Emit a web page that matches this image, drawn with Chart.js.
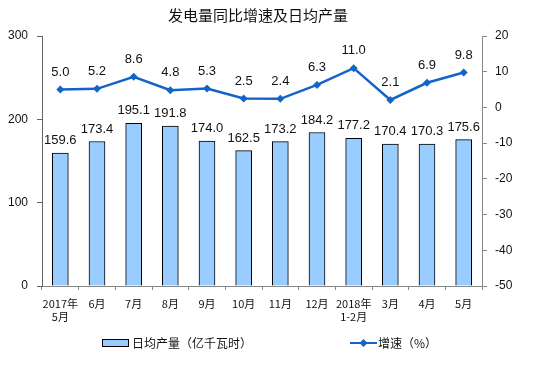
<!DOCTYPE html>
<html>
<head>
<meta charset="utf-8">
<script src="https://cdn.jsdelivr.net/npm/chart.js@4.4.1/dist/chart.umd.min.js"></script>
<style>
  html, body { margin: 0; padding: 0; background: #fff; }
  #wrap { width: 553px; height: 367px; position: relative; }
</style>
</head>
<body>
<div id="wrap"><canvas id="myChart"></canvas></div>
<script>
// 类别与数据
const months = [['2017年', '5月'], '6月', '7月', '8月', '9月', '10月', '11月', '12月', ['2018年', '1-2月'], '3月', '4月', '5月'];
const dailyOutput = [159.6, 173.4, 195.1, 191.8, 174.0, 162.5, 173.2, 184.2, 177.2, 170.4, 170.3, 175.6];
const growthRate = [5.0, 5.2, 8.6, 4.8, 5.3, 2.5, 2.4, 6.3, 11.0, 2.1, 6.9, 9.8];

const titleText = '发电量同比增速及日均产量';
const barLabel = '日均产量（亿千瓦时）';
const lineLabel = '增速（%）';

const barFill = '#99CCFF';
const lineColor = '#1464C8';
const numFont = '"Liberation Sans", Arial, sans-serif';
const cjkFont = '"Noto Sans CJK SC", "Liberation Sans", sans-serif';

// 数值标签 + 标题 + 图例
const labelPlugin = {
    id: 'labels',
    afterDatasetsDraw(chart) {
        const ctx = chart.ctx;
        ctx.save();
        ctx.font = '13px ' + numFont;
        ctx.fillStyle = '#111';
        ctx.textAlign = 'center';
        ctx.textBaseline = 'bottom';
        chart.data.datasets.forEach((ds, i) => {
            const meta = chart.getDatasetMeta(i);
            meta.data.forEach((el, j) => {
                const off = ds.type === 'line' ? 11 : 6;
                ctx.fillText(ds.data[j].toFixed(1), el.x, el.y - off);
            });
        });
        ctx.restore();
    },
    afterDraw(chart) {
        const ctx = chart.ctx;
        ctx.save();
        // 标题
        ctx.font = '15px ' + cjkFont;
        ctx.fillStyle = '#111';
        ctx.textAlign = 'center';
        ctx.textBaseline = 'middle';
        ctx.fillText(titleText, 258, 15);

        // 图例
        const ly = 343;
        ctx.fillStyle = barFill;
        ctx.fillRect(102, ly - 3.5, 26, 7);
        ctx.strokeStyle = '#000';
        ctx.lineWidth = 1;
        ctx.strokeRect(102.5, ly - 3.5, 26, 7);
        ctx.font = '12px ' + cjkFont;
        ctx.fillStyle = '#111';
        ctx.textAlign = 'left';
        ctx.fillText(barLabel, 132, ly);

        ctx.strokeStyle = lineColor;
        ctx.lineWidth = 2;
        ctx.beginPath();
        ctx.moveTo(350, ly);
        ctx.lineTo(377, ly);
        ctx.stroke();
        ctx.fillStyle = lineColor;
        ctx.beginPath();
        ctx.moveTo(363.5, ly - 4);
        ctx.lineTo(367.5, ly);
        ctx.lineTo(363.5, ly + 4);
        ctx.lineTo(359.5, ly);
        ctx.closePath();
        ctx.fill();
        ctx.fillStyle = '#111';
        ctx.fillText(lineLabel, 378, ly);
        ctx.restore();
    }
};

const ctx = document.getElementById('myChart').getContext('2d');
const chart = new Chart(ctx, {
    data: {
        labels: months,
        datasets: [
            {
                type: 'line',
                label: lineLabel,
                data: growthRate,
                yAxisID: 'y1',
                borderColor: lineColor,
                backgroundColor: lineColor,
                borderWidth: 2.5,
                pointStyle: 'rectRot',
                pointRadius: 4,
                pointBorderWidth: 0,
                tension: 0,
                order: 0
            },
            {
                type: 'bar',
                label: barLabel,
                data: dailyOutput,
                yAxisID: 'y',
                backgroundColor: barFill,
                borderColor: '#000',
                borderWidth: 1,
                barThickness: 16,
                order: 1
            }
        ]
    },
    options: {
        animation: false,
        responsive: true,
        maintainAspectRatio: false,
        layout: {
            padding: { top: 36, bottom: 41, left: 0, right: 0 }
        },
        plugins: {
            legend: { display: false },
            title: { display: false },
            tooltip: { enabled: false }
        },
        scales: {
            x: {
                offset: true,
                grid: {
                    offset: true,
                    drawOnChartArea: false,
                    drawTicks: true,
                    tickLength: 4,
                    color: '#888'
                },
                border: { color: '#888' },
                ticks: {
                    color: '#111',
                    padding: 7,
                    maxRotation: 0,
                    autoSkip: false,
                    font: { family: cjkFont, size: 11 }
                },
                afterFit: s => { s.height = 40; }
            },
            y: {
                position: 'left',
                min: 0,
                max: 300,
                ticks: {
                    stepSize: 100,
                    color: '#111',
                    padding: 9,
                    font: { family: numFont, size: 12 }
                },
                grid: {
                    drawOnChartArea: false,
                    tickLength: 5,
                    color: '#666'
                },
                border: { color: '#666' },
                afterFit: s => { s.width = 42; }
            },
            y1: {
                position: 'right',
                min: -50,
                max: 20,
                ticks: {
                    stepSize: 10,
                    color: '#111',
                    padding: 8,
                    font: { family: numFont, size: 12 }
                },
                grid: {
                    drawOnChartArea: false,
                    tickLength: 5,
                    color: '#888'
                },
                border: { color: '#888' },
                afterFit: s => { s.width = 71; }
            }
        }
    },
    plugins: [labelPlugin]
});
</script>
</body>
</html>
